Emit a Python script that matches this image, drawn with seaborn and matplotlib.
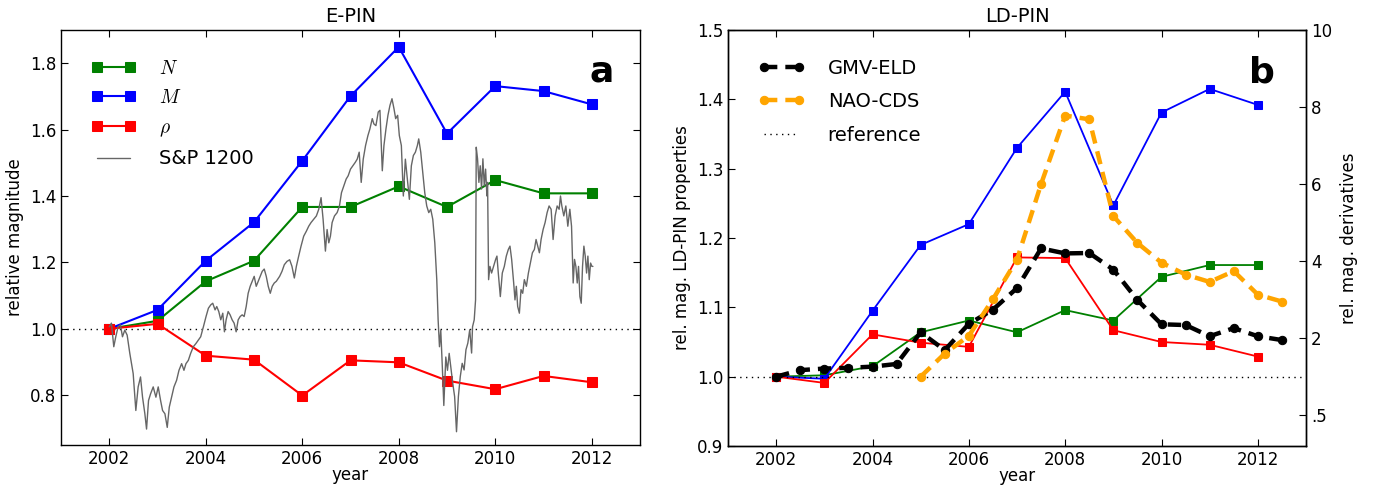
import matplotlib
matplotlib.use("Agg")
import matplotlib.pyplot as plt
import seaborn as sns

# ---------------- data ----------------
years = [2002, 2003, 2004, 2005, 2006, 2007, 2008, 2009, 2010, 2011, 2012]

# E-PIN relative magnitudes
epin_N = [1.000, 1.024, 1.143, 1.205, 1.367, 1.367, 1.429, 1.367, 1.448, 1.408, 1.408]
epin_M = [1.000, 1.057, 1.205, 1.321, 1.506, 1.701, 1.849, 1.588, 1.731, 1.716, 1.676]
epin_rho = [1.000, 1.015, 0.919, 0.907, 0.799, 0.905, 0.899, 0.844, 0.818, 0.858, 0.839]

# S&P 1200 index, normalised to the start of 2002
sp_year = [
    2002.00, 2002.045, 2002.094, 2002.135, 2002.184, 2002.232, 2002.274, 2002.322, 2002.371, 2002.426,
    2002.496, 2002.551, 2002.599, 2002.648, 2002.690, 2002.738, 2002.773, 2002.814, 2002.856, 2002.911,
    2002.967, 2003.015, 2003.064, 2003.105, 2003.154, 2003.202, 2003.244, 2003.292, 2003.341, 2003.396,
    2003.445, 2003.500, 2003.548, 2003.590, 2003.639, 2003.687, 2003.743, 2003.798, 2003.847, 2003.895,
    2003.951, 2004.006, 2004.055, 2004.103, 2004.145, 2004.193, 2004.228, 2004.270, 2004.311, 2004.353,
    2004.387, 2004.422, 2004.464, 2004.505, 2004.547, 2004.588, 2004.630, 2004.672, 2004.713, 2004.755,
    2004.796, 2004.838, 2004.879, 2004.921, 2004.963, 2005.004, 2005.046, 2005.087, 2005.129, 2005.170,
    2005.212, 2005.254, 2005.295, 2005.337, 2005.378, 2005.420, 2005.462, 2005.531, 2005.580, 2005.628,
    2005.683, 2005.739, 2005.787, 2005.836, 2005.878, 2005.926, 2005.975, 2006.030, 2006.085, 2006.134,
    2006.182, 2006.238, 2006.293, 2006.342, 2006.390, 2006.432, 2006.480, 2006.515, 2006.550, 2006.584,
    2006.619, 2006.668, 2006.723, 2006.771, 2006.813, 2006.862, 2006.910, 2006.952, 2007.000, 2007.049,
    2007.097, 2007.139, 2007.180, 2007.222, 2007.264, 2007.312, 2007.361, 2007.402, 2007.451, 2007.485,
    2007.527, 2007.575, 2007.610, 2007.659, 2007.693, 2007.735, 2007.776, 2007.818, 2007.860, 2007.901,
    2007.936, 2007.977, 2008.012, 2008.054, 2008.095, 2008.137, 2008.178, 2008.220, 2008.261, 2008.303,
    2008.345, 2008.386, 2008.414, 2008.456, 2008.497, 2008.539, 2008.580, 2008.622, 2008.663, 2008.705,
    2008.747, 2008.788, 2008.816, 2008.844, 2008.871, 2008.906, 2008.934, 2008.975, 2009.010, 2009.045,
    2009.079, 2009.119, 2009.158, 2009.197, 2009.236, 2009.275, 2009.315, 2009.354, 2009.393, 2009.432,
    2009.471, 2009.510, 2009.529, 2009.564, 2009.592, 2009.606, 2009.633, 2009.661, 2009.689, 2009.716,
    2009.744, 2009.772, 2009.800, 2009.827, 2009.841, 2009.862, 2009.890, 2009.924, 2009.966, 2010.008,
    2010.035, 2010.063, 2010.105, 2010.146, 2010.188, 2010.229, 2010.271, 2010.305, 2010.340, 2010.382,
    2010.409, 2010.437, 2010.465, 2010.500, 2010.534, 2010.569, 2010.603, 2010.645, 2010.687, 2010.728,
    2010.770, 2010.811, 2010.846, 2010.881, 2010.915, 2010.950, 2010.992, 2011.033, 2011.075, 2011.116,
    2011.158, 2011.199, 2011.241, 2011.283, 2011.324, 2011.352, 2011.380, 2011.421, 2011.463, 2011.504,
    2011.546, 2011.581, 2011.615, 2011.643, 2011.671, 2011.699, 2011.726, 2011.754, 2011.782, 2011.809,
    2011.837, 2011.865, 2011.893, 2011.920, 2011.948, 2011.976, 2012.003, 2012.024,
]
sp_value = [
    1.006, 1.017, 0.946, 0.976, 1.006, 1.012, 0.976, 0.996, 0.981, 0.926,
    0.865, 0.754, 0.825, 0.855, 0.794, 0.744, 0.698, 0.784, 0.804, 0.825,
    0.794, 0.825, 0.784, 0.754, 0.744, 0.703, 0.764, 0.794, 0.825, 0.845,
    0.875, 0.895, 0.875, 0.895, 0.905, 0.926, 0.946, 0.956, 0.966, 0.976,
    1.006, 1.037, 1.062, 1.072, 1.077, 1.057, 1.067, 1.052, 1.027, 1.047,
    0.991, 1.027, 1.052, 1.042, 1.027, 1.017, 0.991, 1.027, 1.037, 1.042,
    1.037, 1.067, 1.107, 1.128, 1.143, 1.158, 1.128, 1.143, 1.158, 1.173,
    1.180, 1.158, 1.128, 1.107, 1.128, 1.138, 1.143, 1.158, 1.173, 1.193,
    1.203, 1.208, 1.188, 1.153, 1.188, 1.219, 1.249, 1.279, 1.294, 1.309,
    1.320, 1.330, 1.340, 1.360, 1.395, 1.330, 1.234, 1.299, 1.259, 1.279,
    1.320, 1.340, 1.350, 1.370, 1.410, 1.431, 1.451, 1.461, 1.481, 1.491,
    1.501, 1.511, 1.532, 1.441, 1.511, 1.552, 1.582, 1.602, 1.633, 1.617,
    1.612, 1.653, 1.658, 1.476, 1.552, 1.602, 1.643, 1.673, 1.693, 1.663,
    1.633, 1.643, 1.582, 1.552, 1.400, 1.511, 1.451, 1.390, 1.491, 1.522,
    1.532, 1.552, 1.572, 1.532, 1.471, 1.410, 1.370, 1.350, 1.360, 1.330,
    1.259, 1.148, 1.027, 0.946, 0.996, 0.875, 0.769, 0.915, 0.875, 0.926,
    0.885, 0.836, 0.796, 0.690, 0.796, 0.856, 0.896, 0.876, 0.937, 0.957,
    0.997, 0.927, 1.006, 1.027, 1.087, 1.547, 1.512, 1.441, 1.491, 1.421,
    1.512, 1.431, 1.481, 1.400, 1.441, 1.148, 1.188, 1.168, 1.188, 1.209,
    1.219, 1.168, 1.097, 1.168, 1.188, 1.219, 1.239, 1.249, 1.209, 1.138,
    1.087, 1.128, 1.067, 1.047, 1.118, 1.107, 1.148, 1.128, 1.168, 1.198,
    1.229, 1.239, 1.269, 1.249, 1.229, 1.269, 1.299, 1.320, 1.350, 1.370,
    1.360, 1.269, 1.340, 1.370, 1.360, 1.400, 1.370, 1.340, 1.370, 1.309,
    1.360, 1.309, 1.138, 1.209, 1.188, 1.138, 1.188, 1.097, 1.077, 1.188,
    1.249, 1.219, 1.168, 1.219, 1.148, 1.198, 1.188, 1.188,
]

# LD-PIN relative magnitudes
ldpin_N = [1.000, 1.002, 1.015, 1.064, 1.081, 1.064, 1.096, 1.081, 1.144, 1.161, 1.161]
ldpin_M = [1.000, 0.997, 1.095, 1.190, 1.220, 1.330, 1.411, 1.247, 1.381, 1.415, 1.392]
ldpin_rho = [1.000, 0.991, 1.061, 1.049, 1.043, 1.172, 1.171, 1.067, 1.050, 1.046, 1.029]

# derivative markets (half-yearly)
gmv_year = [2002.0, 2002.5, 2003.0, 2003.5, 2004.0, 2004.5, 2005.0, 2005.5, 2006.0, 2006.5, 2007.0,
            2007.5, 2008.0, 2008.5, 2009.0, 2009.5, 2010.0, 2010.5, 2011.0, 2011.5, 2012.0, 2012.5]
gmv_eld = [1.00, 1.17, 1.21, 1.23, 1.26, 1.33, 2.15, 1.69, 2.37, 2.74, 3.30,
           4.33, 4.20, 4.21, 3.78, 2.99, 2.36, 2.34, 2.05, 2.26, 2.05, 1.95]
nao_year = [2005.0, 2005.5, 2006.0, 2006.5, 2007.0, 2007.5, 2008.0, 2008.5,
            2009.0, 2009.5, 2010.0, 2010.5, 2011.0, 2011.5, 2012.0, 2012.5]
nao_cds = [1.00, 1.60, 2.06, 3.01, 4.04, 6.00, 7.78, 7.68,
           5.17, 4.47, 3.96, 3.65, 3.46, 3.74, 3.13, 2.95]

year_ticks = [2002, 2004, 2006, 2008, 2010, 2012]
epin_ticks = [0.8, 1.0, 1.2, 1.4, 1.6, 1.8]
ldpin_ticks = [0.9, 1.0, 1.1, 1.2, 1.3, 1.4, 1.5]
deriv_ticks = [0, 2, 4, 6, 8, 10]
deriv_tick_labels = [".5", "2", "4", "6", "8", "10"]

# ---------------- style ----------------
sns.set_style("ticks")
plt.rcParams.update({
    "font.family": ["DejaVu Sans"],
    "mathtext.fontset": "cm",
    "font.size": 12,
    "text.color": "black",
    "axes.labelcolor": "black",
    "axes.edgecolor": "black",
    "axes.linewidth": 1.0,
    "xtick.color": "black",
    "ytick.color": "black",
    "xtick.direction": "in",
    "ytick.direction": "in",
    "xtick.labelsize": 12,
    "ytick.labelsize": 12,
})

GREEN = (0.0, 0.5, 0.0)
BLUE = (0.0, 0.0, 1.0)
RED = (1.0, 0.0, 0.0)
GRAY = (0.4, 0.4, 0.4)
ORANGE = "#FFA500"
DOTTED = (0, (1, 3.2))

fig = plt.figure(figsize=(13.75, 4.86), dpi=100)
ax1 = fig.add_axes([61 / 1375, 41 / 486, 579 / 1375, 415 / 486])
ax2 = fig.add_axes([728 / 1375, 40 / 486, 578 / 1375, 416 / 486])

legend_kw = dict(loc="upper left", bbox_to_anchor=(0.038, 0.95), borderaxespad=0,
                 frameon=False, numpoints=2, fontsize=14, handletextpad=1.2)

# ---------------- panel a: E-PIN ----------------
sq_a = dict(marker="s", markersize=7, linewidth=1.5)
sns.lineplot(x=years, y=epin_N, color=GREEN, markeredgecolor=GREEN, ax=ax1, **sq_a)
sns.lineplot(x=years, y=epin_M, color=BLUE, markeredgecolor=BLUE, ax=ax1, **sq_a)
sns.lineplot(x=years, y=epin_rho, color=RED, markeredgecolor=RED, ax=ax1, **sq_a)
ax1.axhline(1.0, color="black", linestyle=DOTTED, linewidth=1.0, zorder=1)
sns.lineplot(x=sp_year, y=sp_value, color=GRAY, linewidth=1.0, ax=ax1, zorder=3)

lines_a = ax1.get_lines()
handles_a = [lines_a[0], lines_a[1], lines_a[2], lines_a[4]]
ax1.legend(handles_a, ["$N$", "$M$", r"$\rho$", "S&P 1200"],
           handlelength=2.3, labelspacing=0.55, **legend_kw)

ax1.set_xlim(2001, 2013)
ax1.set_ylim(0.65, 1.9)
ax1.set_xticks(year_ticks)
ax1.set_xticklabels([str(y) for y in year_ticks])
ax1.set_yticks(epin_ticks)
ax1.set_yticklabels([f"{v:.1f}" for v in epin_ticks])
ax1.tick_params(top=True, right=True, length=5, width=0.8)
ax1.set_xlabel("year", fontsize=12, labelpad=-1)
ax1.set_ylabel("relative magnitude", fontsize=12)
ax1.set_title("E-PIN", fontsize=14, pad=5.5)
ax1.text(0.933, 0.875, "a", transform=ax1.transAxes, fontsize=26,
         fontweight="bold", ha="center", va="baseline")

# ---------------- panel b: LD-PIN ----------------
sq_b = dict(marker="s", markersize=6.2, linewidth=1.3)
sns.lineplot(x=years, y=ldpin_N, color=GREEN, markeredgecolor=GREEN, ax=ax2, **sq_b)
sns.lineplot(x=years, y=ldpin_M, color=BLUE, markeredgecolor=BLUE, ax=ax2, **sq_b)
sns.lineplot(x=years, y=ldpin_rho, color=RED, markeredgecolor=RED, ax=ax2, **sq_b)

ax2r = ax2.twinx()
circ = dict(marker="o", markersize=6, linewidth=3.2, linestyle=(0, (3, 1.8)))
sns.lineplot(x=gmv_year, y=gmv_eld, color="black", markeredgecolor="black", ax=ax2r, **circ)
sns.lineplot(x=nao_year, y=nao_cds, color=ORANGE, markeredgecolor=ORANGE, ax=ax2r, **circ)
ref = ax2r.axhline(1.0, color="black", linestyle=DOTTED, linewidth=1.0, zorder=1)

lines_b = ax2r.get_lines()
ax2r.legend([lines_b[0], lines_b[1], ref], ["GMV-ELD", "NAO-CDS", "reference"],
            handlelength=2.4, labelspacing=0.75, **legend_kw)

ax2.set_xlim(2001, 2013)
ax2.set_ylim(0.9, 1.5)
ax2.set_xticks(year_ticks)
ax2.set_xticklabels([str(y) for y in year_ticks])
ax2.set_yticks(ldpin_ticks)
ax2.set_yticklabels([f"{v:.1f}" for v in ldpin_ticks])
ax2.tick_params(top=True, right=False, length=5, width=0.8)
ax2.set_xlabel("year", fontsize=12, labelpad=-1)
ax2.set_ylabel("rel. mag. LD-PIN properties", fontsize=12)
ax2.set_title("LD-PIN", fontsize=14, pad=5.5)

ax2r.set_ylim(-0.8, 10)
ax2r.set_yticks(deriv_ticks)
ax2r.set_yticklabels(deriv_tick_labels)
ax2r.tick_params(axis="y", right=True, left=False, length=5, width=0.8, direction="in")
ax2r.set_ylabel("rel. mag. derivatives", fontsize=12, labelpad=6)
ax2r.text(0.923, 0.875, "b", transform=ax2r.transAxes, fontsize=26,
          fontweight="bold", ha="center", va="baseline")

for ax in (ax1, ax2, ax2r):
    for sp in ax.spines.values():
        sp.set_visible(True)
        sp.set_color("black")

fig.savefig("out.png", dpi=100)
